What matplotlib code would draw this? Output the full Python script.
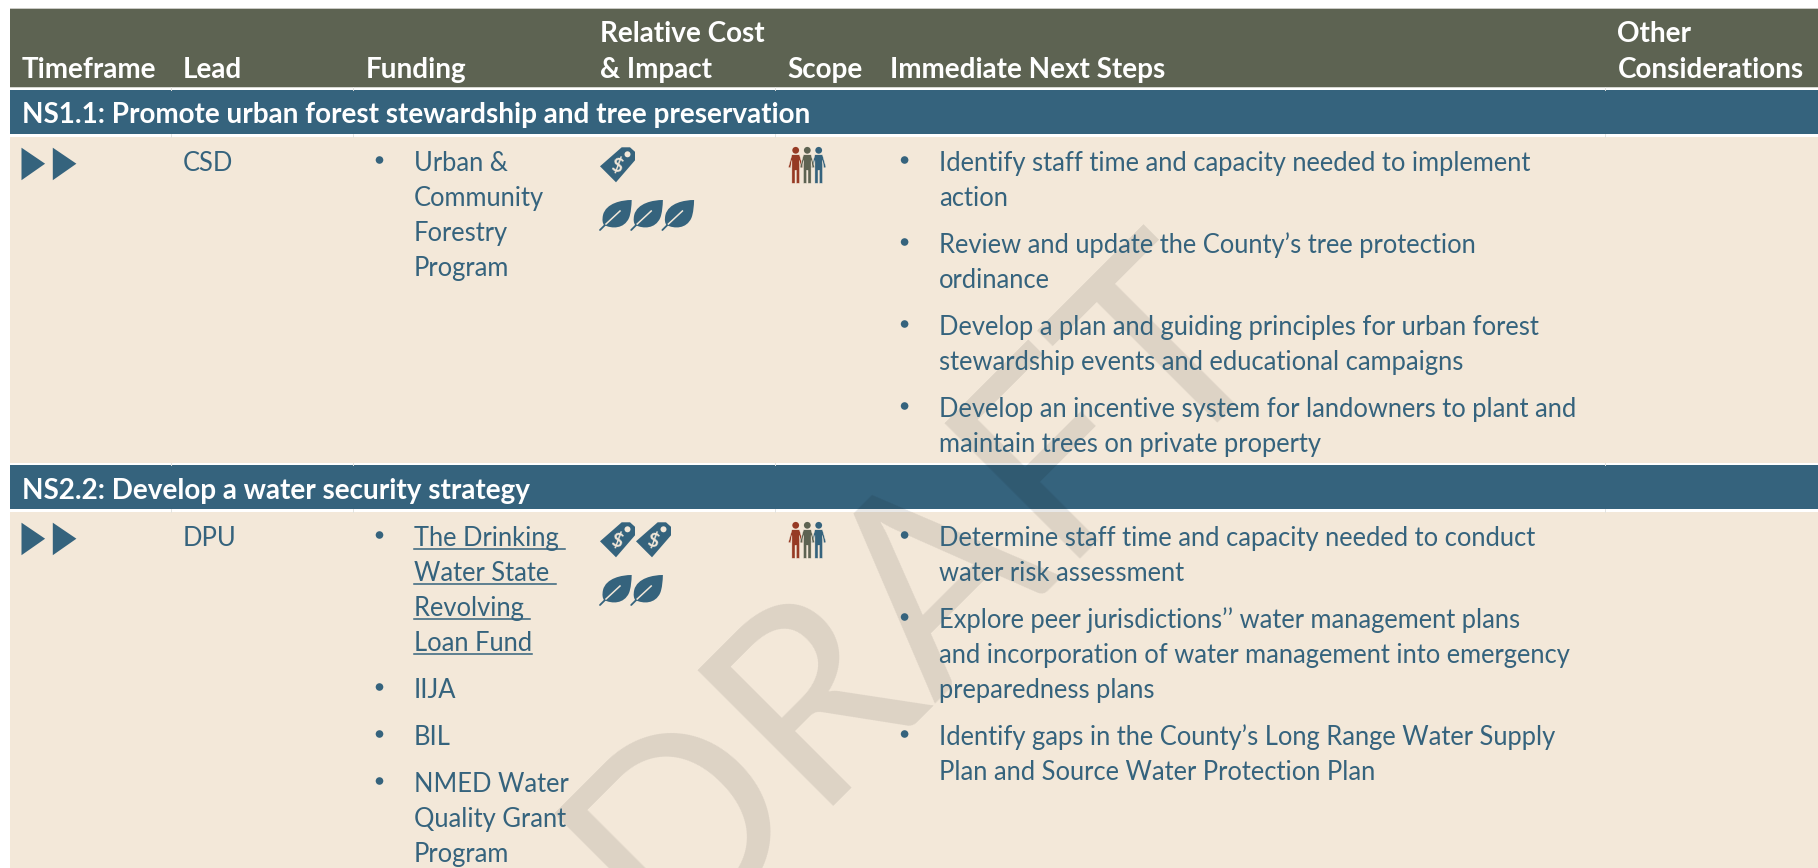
import matplotlib.pyplot as plt
from matplotlib.patches import Rectangle, Polygon, Circle, PathPatch
from matplotlib.path import Path

plt.rcParams['font.family'] = ['Lato', 'DejaVu Sans']

#%% Table content
header_top = ['', '', '', 'Relative Cost', '', '', 'Other']
header_bottom = ['Timeframe', 'Lead', 'Funding', '& Impact', 'Scope', 'Immediate Next Steps', 'Considerations']

action_titles = ['NS1.1: Promote urban forest stewardship and tree preservation',
                 'NS2.2: Develop a water security strategy']
timeframe_arrows = [2, 2]
leads = ['CSD', 'DPU']
cost_tags = [1, 2]
impact_leaves = [3, 2]
scope_people = [3, 3]

funding_1 = [['Urban &', 'Community', 'Forestry', 'Program']]
funding_2 = [['The Drinking ', 'Water State ', 'Revolving ', 'Loan Fund'],
             ['IIJA'],
             ['BIL'],
             ['NMED Water', 'Quality Grant', 'Program']]
funding_links_2 = [True, False, False, False]

steps_1 = [['Identify staff time and capacity needed to implement', 'action'],
           ['Review and update the County’s tree protection', 'ordinance'],
           ['Develop a plan and guiding principles for urban forest', 'stewardship events and educational campaigns'],
           ['Develop an incentive system for landowners to plant and', 'maintain trees on private property']]
steps_2 = [['Determine staff time and capacity needed to conduct', 'water risk assessment'],
           ['Explore peer jurisdictions’’ water management plans',
            'and incorporation of water management into emergency', 'preparedness plans'],
           ['Identify gaps in the County’s Long Range Water Supply', 'Plan and Source Water Protection Plan']]

watermark = 'DRAFT'

#%% Colours
olive = '#5d6352'
blue = '#35637d'
cream = '#f3e8d9'
red = '#963a24'

# Layout is in reference pixels
W, H = 1818, 868
col_x = [21.5, 183, 366, 600.5, 787, 890.5, 1617.5]
col_edges = [171, 353, 775, 1605]
line_gap = 35
para_gap = 47
text_size = 18.4
header_size = 20.1

fig = plt.figure(figsize=(W/100, H/100), dpi=100)
ax = fig.add_axes([0, 0, 1, 1])
ax.set_xlim(0, W)
ax.set_ylim(H, 0)
ax.axis('off')


def band(y0, y1, color):
    ax.add_patch(Rectangle((10, y0), W-10, y1-y0, fc=color, ec='none', zorder=1))


#%% Bands
band(8, 9, '#c9c9c4')
band(9, 87, olive)
band(87, 88, '#d5d6d0')
band(90, 134, blue)
band(137, 462.5, cream)
band(465, 509, blue)
band(512, H, cream)

# faint cell borders showing through the white gaps
for x in col_edges:
    for y0, y1 in [(87, 90), (134, 137), (462.5, 465), (509, 512)]:
        ax.plot([x, x], [y0, y1], color='#e4e4e0', lw=0.7, zorder=1.5)

# watermark sits under the text
ax.text(666, 950, watermark, fontsize=193, color='black', alpha=0.095, rotation=45,
        rotation_mode='anchor', ha='left', va='baseline', zorder=2, clip_on=True)


#%% Icons
def arrows(n, y):
    for i in range(n):
        x = 21.5 + i*31.3
        ax.add_patch(Polygon([(x, y), (x+23.6, y+16), (x, y+32.5)], fc=blue, ec='none', zorder=3))


def tags(n, y):
    for i in range(n):
        x = 600 + i*36
        ax.add_patch(Polygon([(x, y+19), (x+21.7, y), (x+30, y), (x+35, y+4.5), (x+35, y+13), (x+16, y+35)],
                             fc=blue, ec='none', zorder=3))
        ax.add_patch(Circle((x+27.5, y+7), 3, fc=cream, ec='none', zorder=4))
        ax.text(x+16.5, y+18.5, '$', fontsize=14, fontweight='bold', color=cream, rotation=-15,
                ha='center', va='center', zorder=4)


leaf_codes = [Path.MOVETO, Path.CURVE4, Path.CURVE4, Path.CURVE4, Path.CURVE4, Path.CURVE4, Path.CURVE4,
              Path.CURVE4, Path.CURVE4, Path.CURVE4, Path.CURVE4, Path.CURVE4, Path.CURVE4, Path.CLOSEPOLY]
leaf_shape = [(31.7, -30), (22, -30), (6, -27), (3, -15), (2, -10), (2.5, -7), (4, -5),
              (12, -1), (24, -1), (29, -12), (31, -17), (31.5, -24), (31.7, -30), (31.7, -30)]


def leaves(n, y):
    for i in range(n):
        x = 600 + i*31.2
        verts = [(x+a, y+b) for a, b in leaf_shape]
        ax.add_patch(PathPatch(Path(verts, leaf_codes), fc=blue, ec='none', zorder=3))
        ax.plot([x, x+6], [y, y-6], color=blue, lw=1.3, solid_capstyle='round', zorder=3)
        ax.plot([x+6, x+20], [y-6, y-19], color=cream, lw=1.1, zorder=4)


person_shape = [(-3.8, 4.5), (3.8, 4.5), (7.3, 17), (5.2, 17.7), (3.8, 10), (3.8, 33), (0.7, 33), (0.7, 20),
                (-0.7, 20), (-0.7, 33), (-3.8, 33), (-3.8, 10), (-5.2, 17.7), (-7.3, 17)]


def people(y):
    # blue at the back, then red, olive in front
    for x, color in [(818.7, blue), (795.7, red), (807.3, olive)]:
        ax.add_patch(Polygon([(x+a, y+b) for a, b in person_shape], fc=color, ec=cream, lw=0.3, zorder=3))
        ax.add_patch(Circle((x, y), 3.4, fc=color, ec='none', zorder=3))


#%% Text helpers
def bulleted(paragraphs, x_bullet, x_text, y, links=None):
    for p, lines in enumerate(paragraphs):
        ax.add_patch(Circle((x_bullet, y-10), 3.8, fc=blue, ec='none', zorder=5))
        for i, line in enumerate(lines):
            t = ax.text(x_text, y+1, line, fontsize=text_size, color=blue, va='baseline', zorder=5)
            if links is not None and links[p]:
                box = t.get_window_extent(fig.canvas.get_renderer())
                ax.plot([box.x0, box.x1], [y+3.6, y+3.6], color=blue, lw=1.1, zorder=5)
            y += line_gap if i < len(lines)-1 else para_gap


#%% Header
for x, top, bottom in zip(col_x, header_top, header_bottom):
    if top:
        ax.text(x, 42.5, top, fontsize=header_size, fontweight='bold', color='white', va='baseline', zorder=5)
    ax.text(x, 78, bottom, fontsize=header_size, fontweight='bold', color='white', va='baseline', zorder=5)

#%% Rows
section_base = [123.5, 498.8]
row_base = [170, 545]
fundings = [funding_1, funding_2]
funding_links = [None, funding_links_2]
steps = [steps_1, steps_2]

for r in range(2):
    y = row_base[r]
    ax.text(col_x[0], section_base[r], action_titles[r], fontsize=20.1, fontweight='bold', color='white',
            va='baseline', zorder=5)
    arrows(timeframe_arrows[r], y-22.3)
    ax.text(col_x[1], y+1, leads[r], fontsize=text_size, color=blue, va='baseline', zorder=5)
    bulleted(fundings[r], 379.5, 413.8, y, funding_links[r])
    tags(cost_tags[r], y-22.7)
    leaves(impact_leaves[r], y+60)
    people(y-19.7)
    bulleted(steps[r], 904.6, 939, y)

plt.savefig('out.png', dpi=100)
